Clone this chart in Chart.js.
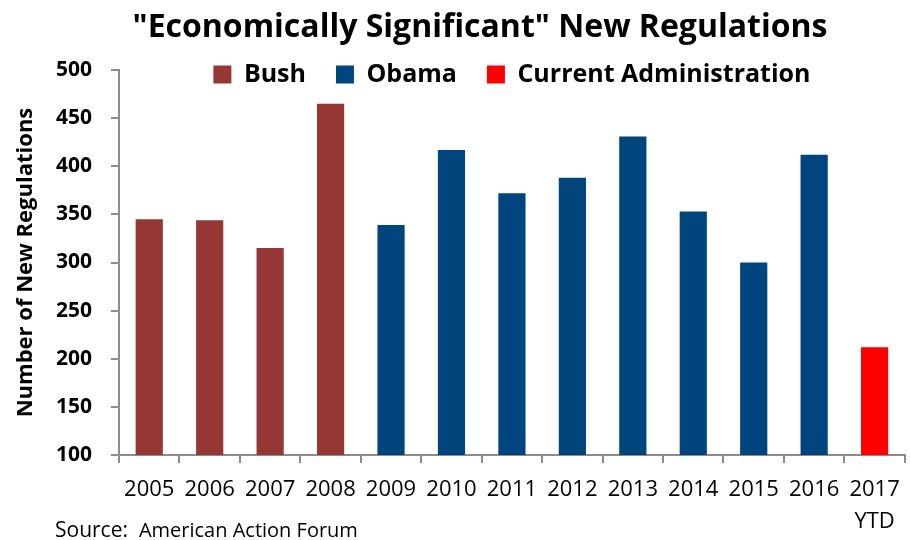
<!DOCTYPE html>
<html>
<head>
<meta charset="utf-8">
<title>Economically Significant New Regulations</title>
<script src="https://cdn.jsdelivr.net/npm/chart.js@4"></script>
<style>
  html, body { margin: 0; padding: 0; background: #fff; }
  #wrap { width: 911px; height: 540px; position: relative; }
</style>
</head>
<body>
<div id="wrap"><canvas id="regs-chart"></canvas></div>
<script>
// categories and values
const years = ["2005", "2006", "2007", "2008", "2009", "2010", "2011", "2012",
  "2013", "2014", "2015", "2016", ["2017", "YTD"]];
const bushRegs    = [345, 344, 315, 465, null, null, null, null, null, null, null, null, null];
const obamaRegs   = [null, null, null, null, 339, 417, 372, 388, 431, 353, 300, 412, null];
const currentRegs = [null, null, null, null, null, null, null, null, null, null, null, null, 212];
const yTicks = [100, 150, 200, 250, 300, 350, 400, 450, 500];

const FONT = "'Open Sans', 'Noto Sans', sans-serif";
const AXIS_GREY = "#8c8c8c";

// title and source note are drawn as plain canvas text
const textPlugin = {
  id: "textNotes",
  afterLayout(chart) {
    // legend sits level with the top of the plot, let it draw past its own box
    const lg = chart.legend;
    lg.height = 70;
    lg.bottom = lg.top + 70;
  },
  afterDraw(chart) {
    const c = chart.ctx;
    c.save();
    c.fillStyle = "#000";
    c.textBaseline = "alphabetic";
    c.textAlign = "center";
    c.font = "bold 32px " + FONT;
    c.fillText('"Economically Significant" New Regulations', 480, 37);
    c.textAlign = "left";
    c.font = "21px " + FONT;
    c.fillText("Source:", 55, 537);
    const w = c.measureText("Source:  ").width;
    c.font = "20px " + FONT;
    c.fillText("American Action Forum", 55 + w, 537);
    c.restore();
  }
};

const ctx = document.getElementById("regs-chart").getContext("2d");

new Chart(ctx, {
  type: "bar",
  data: {
    labels: years,
    datasets: [
      { label: "Bush", data: bushRegs, backgroundColor: "#953735" },
      { label: "Obama", data: obamaRegs, backgroundColor: "#00457e" },
      { label: "Current Administration", data: currentRegs, backgroundColor: "#ff0000" },
    ],
  },
  options: {
    responsive: true,
    maintainAspectRatio: false,
    animation: false,
    datasets: {
      bar: { grouped: false, categoryPercentage: 1, barPercentage: 0.45 },
    },
    layout: { padding: { top: 32, left: 15, right: 5, bottom: -9 } },
    plugins: {
      title: { display: false },
      tooltip: { enabled: false },
      legend: {
        display: true,
        position: "top",
        fullSize: false,
        maxHeight: 38,
        labels: {
          color: "#000",
          font: { family: FONT, size: 25, weight: "bold" },
          boxWidth: 18,
          boxHeight: 18,
          padding: 30,
        },
      },
    },
    scales: {
      x: {
        grid: {
          display: true,
          drawOnChartArea: false,
          drawTicks: true,
          tickLength: 8,
          color: AXIS_GREY,
          lineWidth: 2,
        },
        border: { display: true, color: AXIS_GREY, width: 2 },
        ticks: {
          color: "#000",
          font: { family: FONT, size: 22, lineHeight: 32 / 22 },
          padding: 11,
          maxRotation: 0,
          minRotation: 0,
          autoSkip: false,
        },
      },
      y: {
        min: 100,
        max: 500,
        afterBuildTicks: (axis) => {
          axis.ticks = yTicks.map((v) => ({ value: v }));
        },
        grid: {
          display: true,
          drawOnChartArea: false,
          drawTicks: true,
          tickLength: 8,
          color: AXIS_GREY,
          lineWidth: 2,
        },
        border: { display: true, color: AXIS_GREY, width: 2 },
        ticks: {
          color: "#000",
          font: { family: FONT, size: 21, weight: "bold" },
          padding: 19,
        },
        title: {
          display: true,
          text: "Number of New Regulations",
          color: "#000",
          font: { family: FONT, size: 22, weight: "bold", lineHeight: 1 },
          padding: { top: 0, bottom: 0 },
        },
      },
    },
  },
  plugins: [textPlugin],
});
</script>
</body>
</html>
